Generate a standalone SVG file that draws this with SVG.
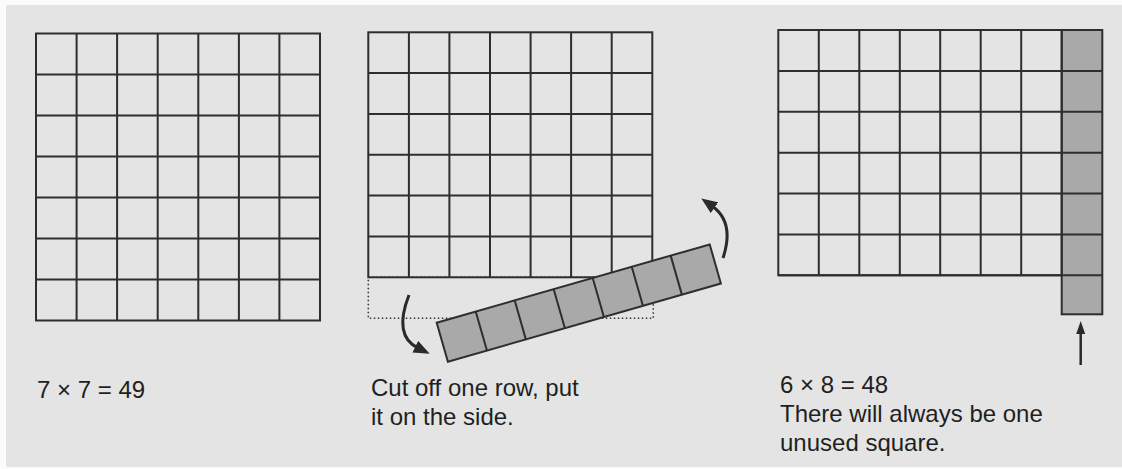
<svg xmlns="http://www.w3.org/2000/svg" width="1122" height="469" viewBox="0 0 1122 469">
<style>
.bg{fill:#e4e4e4}
.grid{fill:none;stroke:#2e2e2e;stroke-width:2}
.shade{fill:#a9a9a9;stroke:#2e2e2e;stroke-width:2}
.dot{fill:none;stroke:#333;stroke-width:1.5;stroke-dasharray:1.5 2.5}
.arr{fill:none;stroke:#2a2a2a;stroke-width:3}
.lbl{font-family:"Liberation Sans",Arial,sans-serif;font-size:24px;fill:#1f1f1f}
</style>
<defs>
<marker id="ah" markerUnits="userSpaceOnUse" markerWidth="16" markerHeight="13" viewBox="0 0 16 13" refX="3" refY="6.5" orient="auto">
<path d="M0,0 L16,6.5 L0,13 z" fill="#2a2a2a"/>
</marker>
<marker id="ahs" markerUnits="userSpaceOnUse" markerWidth="13" markerHeight="9" viewBox="0 0 13 9" refX="2" refY="4.5" orient="auto">
<path d="M0,0 L13,4.5 L0,9 z" fill="#2a2a2a"/>
</marker>
</defs>
<rect width="1122" height="469" fill="#fbfbfb"/>
<rect class="bg" x="6" y="5" width="1116" height="462"/>

<g id="grid7x7">
<rect class="grid" x="36" y="33.5" width="284" height="287"/>
<path class="grid" d="M76.6 33.5V320.5M117.1 33.5V320.5M157.7 33.5V320.5M198.3 33.5V320.5M238.9 33.5V320.5M279.4 33.5V320.5M36 74.5H320M36 115.5H320M36 156.5H320M36 197.5H320M36 238.5H320M36 279.5H320"/>
<text class="lbl" x="37" y="398">7 × 7 = 49</text>
</g>

<g id="grid-cut">
<rect class="grid" x="368.3" y="32.3" width="284" height="245"/>
<path class="grid" d="M408.9 32.3V277.3M449.4 32.3V277.3M490 32.3V277.3M530.6 32.3V277.3M571.1 32.3V277.3M611.7 32.3V277.3M368.3 73.1H652.3M368.3 113.9H652.3M368.3 154.8H652.3M368.3 195.6H652.3M368.3 236.4H652.3"/>
<rect class="dot" x="368.3" y="277.3" width="285" height="41"/>
</g>

<g id="strip" transform="translate(436.7,322.7) rotate(-16)">
<rect class="shade" x="0" y="0" width="284" height="40.6"/>
<path class="grid" d="M40.6 0V40.6M81.1 0V40.6M121.7 0V40.6M162.3 0V40.6M202.9 0V40.6M243.4 0V40.6"/>
</g>

<g id="label-cut">
<text class="lbl" x="371" y="396">Cut off one row, put</text>
<text class="lbl" x="371" y="425">it on the side.</text>
</g>

<g id="grid6x8">
<rect class="shade" x="1061.7" y="30" width="40.6" height="284.3"/>
<rect class="grid" x="778.3" y="30" width="283.4" height="245.3"/>
<path class="grid" d="M818.8 30V275.3M859.3 30V275.3M899.8 30V275.3M940.2 30V275.3M980.7 30V275.3M1021.2 30V275.3M778.3 70.9H1102.3M778.3 111.8H1102.3M778.3 152.7H1102.3M778.3 193.5H1102.3M778.3 234.4H1102.3M778.3 275.3H1102.3"/>
<text class="lbl" x="780" y="393">6 × 8 = 48</text>
<text class="lbl" x="780" y="422">There will always be one</text>
<text class="lbl" x="780" y="451">unused square.</text>
</g>

<g id="connectors">
<path class="arr" d="M409,295 Q393,336 418,348" marker-end="url(#ah)"/>
<path class="arr" d="M723,258 Q735,222 712,206" marker-end="url(#ah)"/>
<path class="arr" style="stroke-width:2.5" d="M1080.7,365 V332" marker-end="url(#ahs)"/>
</g>
</svg>
